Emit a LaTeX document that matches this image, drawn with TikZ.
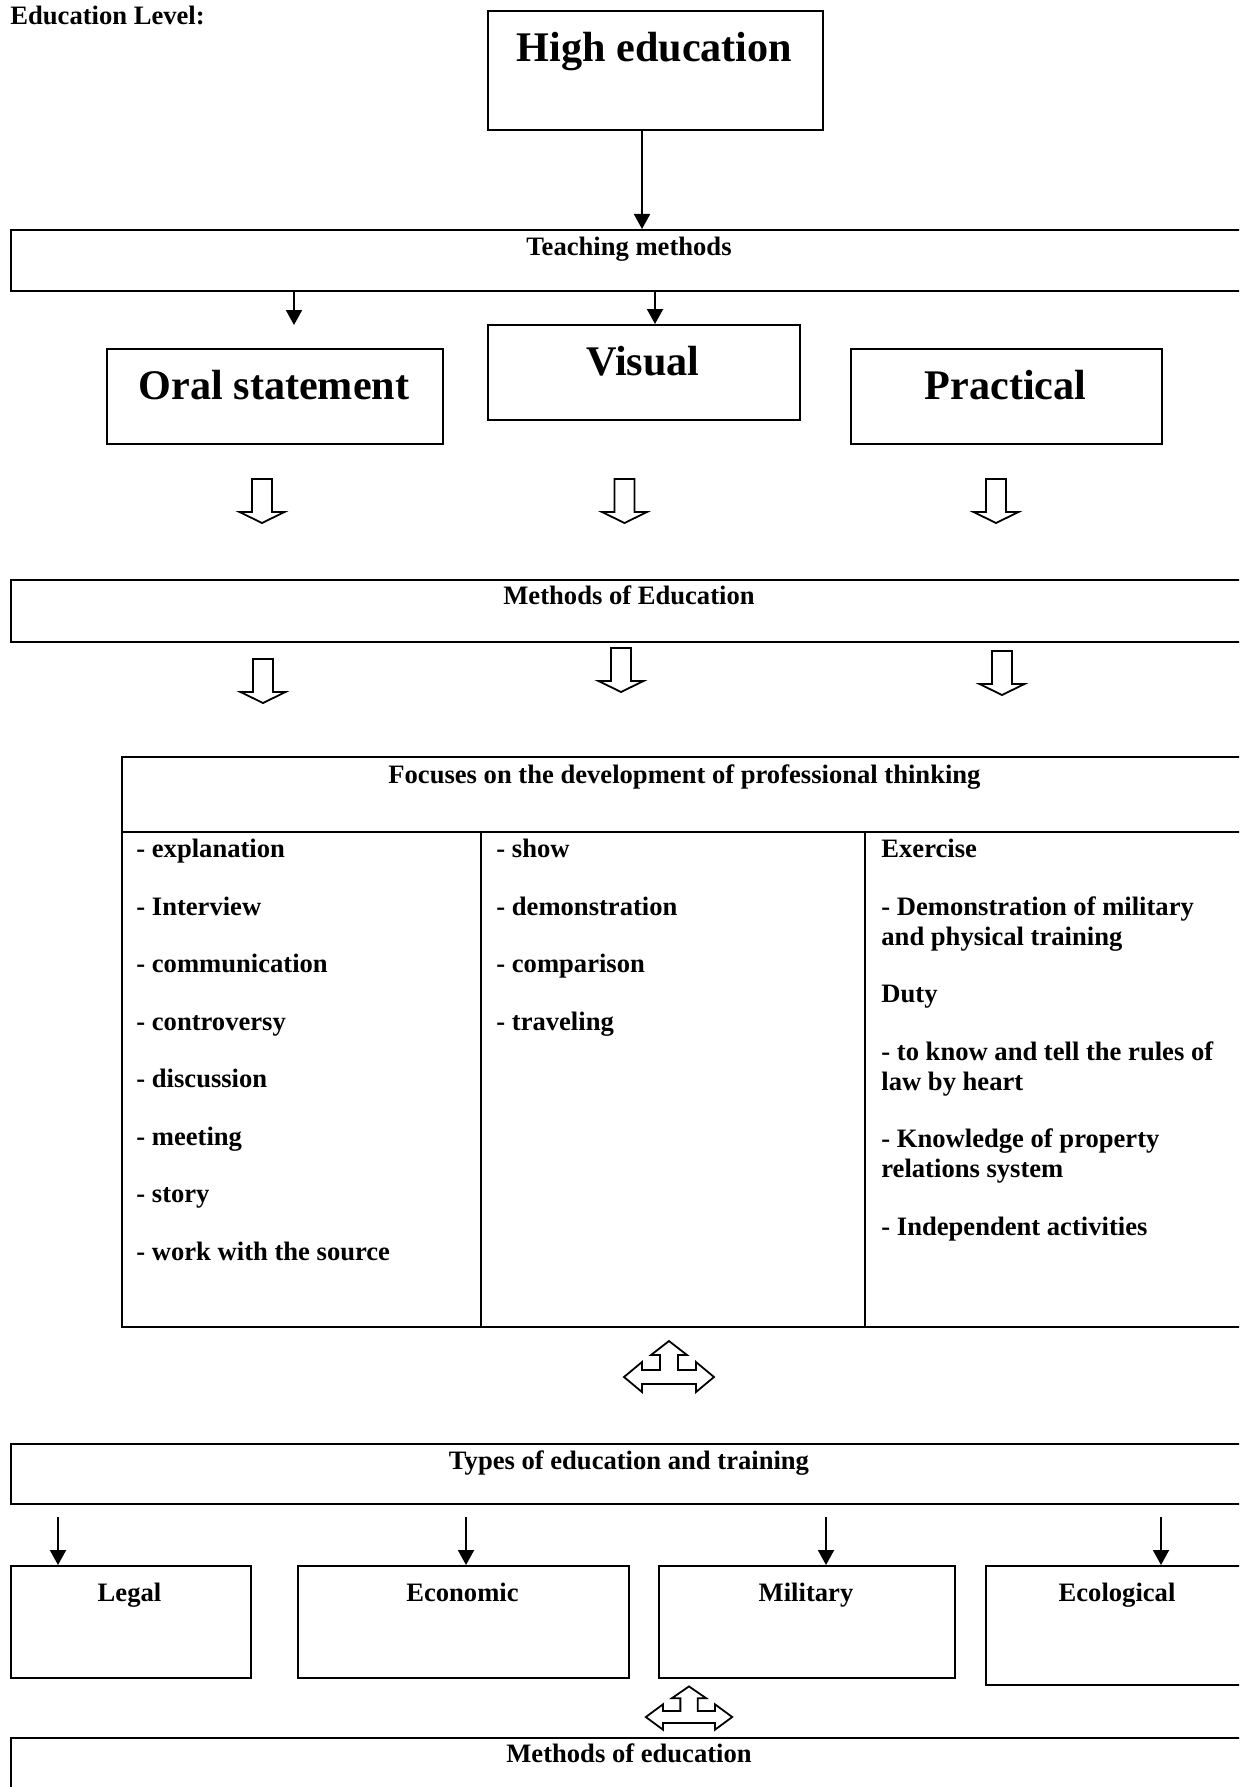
\documentclass[tikz,border=0pt]{standalone}
\usepackage{fontspec}
\setmainfont{Liberation Serif}
\usetikzlibrary{arrows.meta}
\newcommand\txtfont{\fontsize{13.3}{15}\selectfont\bfseries}
\newcommand\bigtxtfont{\fontsize{21.1}{25}\selectfont\bfseries}
\tikzset{
  box/.style={draw, line width=1pt, inner sep=0, anchor=north west},
  lbl/.style={font=\txtfont, inner sep=0, anchor=base},
  biglbl/.style={font=\bigtxtfont, inner sep=0, anchor=base},
  item/.style={font=\txtfont, inner sep=0, anchor=base west, align=left},
  arr/.style={-{Triangle[length=7.5pt,width=8pt]}, line width=1pt},
  hollow/.style={draw, line width=.9pt, fill=white, line join=miter},
  downarr/.pic={\draw[hollow] (-10,0) -- (10,0) -- (10,33) -- (22.5,33) -- (0,44) -- (-22.5,33) -- (-10,33) -- cycle;},
  triarr/.pic={\draw[hollow] (-45,0) -- (-27,-15) -- (-27,-7) -- (-9,-7) -- (-9,-22) -- (-18,-22) -- (0,-36) -- (18,-22) -- (9,-22) -- (9,-7) -- (27,-7) -- (27,-15) -- (45,0) -- (27,15) -- (27,7) -- (-27,7) -- (-27,15) -- cycle;}
}
\begin{document}
\begin{tikzpicture}[x=0.5pt, y=-0.5pt]
\useasboundingbox (0,0) rectangle (1239,1787);
\clip (0,0) rectangle (1239,1787);
% -- top: level and teaching methods --
\node[item] (lvl) at (10,25) {Education Level:};
\node[box, minimum width=167.5pt, minimum height=59.5pt] (high) at (487,10) {};
\node[biglbl] (highT) at (654.5,62) {High education};
\node[box, minimum width=619pt, minimum height=30.5pt] (teach) at (10,229) {};
\node[lbl] (teachT) at (629,256) {Teaching methods};
\coordinate (a0) at (642,0);
\draw[arr] (high.south -| a0) -- (teach.north -| a0);
% -- the three methods --
\node[box, minimum width=168pt, minimum height=47.5pt] (oral) at (106,348) {};
\node[biglbl] (oralT) at (274,399) {Oral statement};
\node[box, minimum width=156pt, minimum height=47.5pt] (visual) at (487,324) {};
\node[biglbl] (visualT) at (643,375) {Visual};
\node[box, minimum width=155.5pt, minimum height=47.5pt] (pract) at (850,348) {};
\node[biglbl] (practT) at (1005.5,399) {Practical};
\coordinate (a1) at (294,325);
\coordinate (a2) at (655,0);
\draw[arr] (teach.south -| a1) -- (a1);
\draw[arr] (teach.south -| a2) -- (visual.north -| a2);
\pic at (262,479) {downarr};
\pic at (624.5,479) {downarr};
\pic at (996,479) {downarr};
% -- methods of education --
\node[box, minimum width=619pt, minimum height=31pt] (meth) at (10,579) {};
\node[lbl] (methT) at (629,604) {Methods of Education};
\pic at (263,659) {downarr};
\pic at (621,648) {downarr};
\pic at (1002,651) {downarr};
% -- table --
\node[box, minimum width=563.5pt, minimum height=285pt] (focus) at (121,756) {};
\node[lbl] (focusT) at (684.5,783) {Focuses on the development of professional thinking};
\draw[line width=1pt] (121,832) -- (1248,832);
\draw[line width=1pt] (481,832) -- (481,1326);
\draw[line width=1pt] (865,832) -- (865,1326);
\node[item] (c1a) at (136,857.5) {- explanation};
\node[item] (c1b) at (136,915) {- Interview};
\node[item] (c1c) at (136,972.5) {- communication};
\node[item] (c1d) at (136,1030) {- controversy};
\node[item] (c1e) at (136,1087.5) {- discussion};
\node[item] (c1f) at (136,1145) {- meeting};
\node[item] (c1g) at (136,1202.5) {- story};
\node[item] (c1h) at (136,1260) {- work with the source};
\node[item] (c2a) at (496,857.5) {- show};
\node[item] (c2b) at (496,915) {- demonstration};
\node[item] (c2c) at (496,972.5) {- comparison};
\node[item] (c2d) at (496,1030) {- traveling};
\node[item] (c3a) at (881,857.5) {Exercise};
\node[item] (c3b) at (881,945) {- Demonstration of military\\and physical training};
\node[item] (c3c) at (881,1002.5) {Duty};
\node[item] (c3d) at (881,1090) {- to know and tell the rules of\\law by heart};
\node[item] (c3e) at (881,1177.5) {- Knowledge of property\\relations system};
\node[item] (c3f) at (881,1235) {- Independent activities};
\pic at (669,1377) {triarr};
% -- types of education and training --
\node[box, minimum width=619pt, minimum height=30pt] (types) at (10,1443) {};
\node[lbl] (typesT) at (629,1469) {Types of education and training};
\node[box, minimum width=120pt, minimum height=56pt] (legal) at (10,1565) {};
\node[lbl] (legalT) at (129.5,1601) {Legal};
\node[box, minimum width=165.5pt, minimum height=56pt] (econ) at (297,1565) {};
\node[lbl] (econT) at (462.5,1601) {Economic};
\node[box, minimum width=148pt, minimum height=56pt] (mil) at (658,1565) {};
\node[lbl] (milT) at (806,1601) {Military};
\node[box, minimum width=131.5pt, minimum height=59.5pt] (eco) at (985,1565) {};
\node[lbl] (ecoT) at (1117,1601) {Ecological};
\coordinate (b1) at (58,1517);
\coordinate (b2) at (466,1517);
\coordinate (b3) at (826,1517);
\coordinate (b4) at (1161,1517);
\draw[arr] (b1) -- (b1 |- legal.north);
\draw[arr] (b2) -- (b2 |- econ.north);
\draw[arr] (b3) -- (b3 |- mil.north);
\draw[arr] (b4) -- (b4 |- eco.north);
\pic[xscale=.96, yscale=.85] at (689,1717) {triarr};
% -- methods of education, bottom --
\node[box, minimum width=619pt, minimum height=50pt] (meth2) at (10,1737) {};
\node[lbl] (meth2T) at (629,1762) {Methods of education};
\end{tikzpicture}
\end{document}
